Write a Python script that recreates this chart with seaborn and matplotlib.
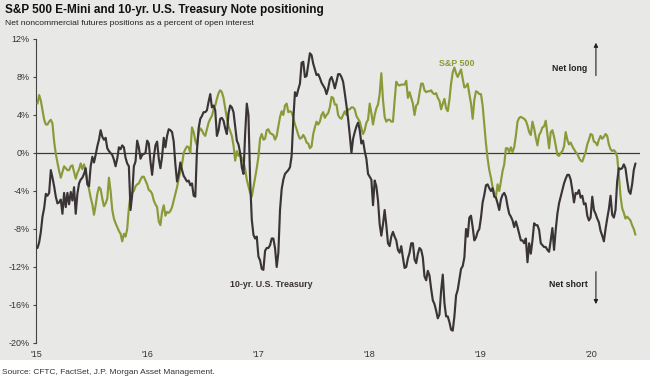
import pandas as pd
import matplotlib
matplotlib.use("Agg")
import matplotlib.pyplot as plt
import matplotlib.ticker as mticker
from matplotlib.patches import Rectangle
import seaborn as sns

# Weekly readings, net noncommercial positions as % of open interest
treasury = [
    -10.0, -9.4, -8.3, -6.7, -5.8, -4.3, -4.5, -4.2, -1.8, -2.6,
    -3.5, -4.6, -5.3, -5.2, -4.9, -6.4, -4.2, -5.7, -4.2, -5.4,
    -4.1, -5.0, -3.6, -6.4, -4.3, -3.2, -2.8, -2.6, -2.2, -1.6,
    -3.3, -3.5, -1.4, -0.4, -1.0, -0.2, 0.7, 1.4, 2.4, 1.7,
    1.4, 1.6, 0.5, 0.2, 0.0, -0.2, -0.7, -1.4, -0.6, 0.6,
    0.4, 0.8, 0.6, -0.5, -1.1, -1.4, -6.0, -4.4, -1.4, -0.9,
    1.3, 0.6, -0.6, -0.2, -0.1, 0.0, 1.3, 1.0, -0.9, -2.3,
    -0.5, 0.8, 1.2, -0.6, -1.6, -0.4, 1.6, 0.6, 1.8, 2.5,
    2.4, 2.2, 1.2, -1.2, -3.0, -2.2, -1.0, -1.8, -2.4, -2.7,
    -3.0, -2.9, -3.4, -3.2, -4.5, -4.6, 0.3, 2.6, 3.6, 3.9,
    4.3, 4.3, 4.5, 5.4, 6.2, 4.8, 5.0, 4.5, 1.8, 2.4,
    3.6, 3.7, 3.4, 2.6, 2.0, 4.2, 5.0, 4.8, 4.3, 2.8,
    1.3, 0.9, 0.0, -1.5, -2.2, 2.0, 5.2, 4.0, -2.8, -7.0,
    -8.6, -9.0, -8.8, -10.9, -11.3, -12.2, -12.3, -10.3, -10.0, -10.0,
    -9.7, -9.0, -9.0, -10.0, -12.0, -10.5, -6.0, -3.8, -2.8, -2.2,
    -2.0, -1.8, -1.5, -0.3, 3.5, 6.4, 6.0, 6.7, 7.3, 9.5,
    9.6, 8.0, 8.1, 9.3, 10.5, 10.3, 9.4, 8.8, 8.2, 8.3,
    7.9, 7.4, 7.1, 6.8, 6.2, 6.8, 7.7, 8.0, 7.5, 6.8,
    7.5, 8.3, 8.3, 8.0, 7.5, 6.3, 5.0, 3.6, 1.9, 0.0,
    1.5, 2.2, 2.8, 3.2, 2.4, 1.0, 1.3, 0.2, -0.6, -2.2,
    -2.5, -2.8, -5.5, -2.9, -3.5, -5.0, -7.5, -8.7, -7.5, -6.0,
    -7.6, -9.5, -9.8, -8.8, -8.3, -8.8, -9.2, -10.2, -10.5, -9.8,
    -11.0, -12.1, -12.0, -11.1, -10.5, -9.5, -9.5, -11.2, -11.6, -10.6,
    -10.0, -10.2, -11.0, -13.0, -13.4, -12.4, -12.9, -14.3, -15.5, -15.9,
    -16.6, -17.4, -17.0, -14.5, -12.8, -15.8, -17.2, -17.2, -17.8, -18.6,
    -18.7, -17.2, -15.0, -14.4, -13.3, -12.2, -11.9, -11.0, -8.0, -8.8,
    -6.8, -6.6, -7.8, -9.2, -8.9, -8.3, -8.0, -6.8, -5.2, -4.4,
    -3.4, -3.3, -3.7, -4.0, -3.7, -4.6, -4.7, -5.3, -6.0, -4.9,
    -4.4, -4.2, -4.6, -5.6, -6.4, -6.7, -7.1, -7.8, -7.2, -7.8,
    -8.5, -9.2, -9.2, -9.5, -9.0, -11.5, -9.5, -10.6, -9.2, -7.4,
    -7.6, -7.6, -8.1, -9.5, -9.7, -9.9, -9.9, -10.2, -10.4, -9.2,
    -7.9, -10.2, -8.1, -6.4, -5.3, -4.6, -3.9, -3.2, -2.7, -2.3,
    -2.3, -2.8, -3.9, -5.2, -4.2, -4.3, -3.9, -4.7, -4.5, -5.4,
    -5.3, -6.6, -7.1, -6.8, -4.6, -6.0, -6.4, -6.9, -7.3, -8.2,
    -8.7, -9.3, -8.0, -6.9, -5.9, -4.5, -6.5, -6.8, -6.0, -3.0,
    -1.6, -1.7, -1.6, -1.2, -1.6, -2.9, -4.0, -4.3, -3.3, -1.8,
    -1.1,
]

sp500 = [
    5.2, 6.1, 5.5, 4.5, 3.5, 3.0, 3.0, 3.3, 3.5, 3.1,
    1.2, -0.1, -1.0, -1.9, -2.6, -2.0, -1.4, -1.6, -1.8, -1.8,
    -1.4, -1.3, -2.0, -2.7, -2.1, -1.7, -1.1, -1.7, -1.2, -1.9,
    -3.1, -3.8, -4.7, -5.4, -6.5, -5.5, -4.3, -3.6, -3.8, -4.8,
    -5.6, -5.3, -4.8, -2.6, -4.0, -6.0, -6.9, -7.4, -7.8, -8.2,
    -8.5, -9.3, -8.5, -8.8, -8.0, -5.8, -4.4, -4.2, -4.0, -3.5,
    -3.3, -3.2, -2.8, -2.5, -2.5, -2.9, -3.3, -3.9, -4.0, -4.3,
    -5.0, -5.4, -5.7, -7.2, -7.6, -6.2, -5.5, -6.6, -6.2, -6.3,
    -6.1, -5.7, -5.0, -4.3, -3.6, -2.7, -1.9, -1.2, 0.0, 0.4,
    0.7, 0.6, 0.0, 2.7, 2.2, 1.3, 0.8, 2.1, 2.6, 2.4,
    2.0, 1.8, 2.5, 3.2, 3.6, 3.9, 4.6, 5.0, 5.7, 6.3,
    6.6, 6.4, 5.8, 4.7, 3.7, 2.8, 2.3, 1.8, 0.8, -0.8,
    0.2, -0.3, -0.2, -0.5, -0.9, -1.7, -2.8, -3.5, -4.2, -4.6,
    -3.6, -2.6, -1.6, -0.4, 1.5, 2.0, 1.4, 1.5, 2.4, 2.5,
    2.1, 2.0, 1.9, 1.4, 1.8, 2.8, 3.8, 4.4, 4.0, 5.0,
    5.2, 4.3, 4.4, 4.3, 3.7, 3.0, 2.5, 1.9, 1.5, 1.6,
    1.9, 1.6, 1.1, 1.0, 0.5, 0.7, 2.0, 2.7, 3.3, 3.0,
    3.3, 4.0, 4.3, 3.7, 4.0, 4.2, 4.8, 5.9, 5.8, 5.1,
    5.1, 4.0, 3.7, 3.6, 4.0, 4.4, 4.0, 4.6, 4.6, 4.8,
    4.8, 4.6, 3.9, 3.6, 3.3, 2.6, 2.0, 2.4, 3.2, 3.5,
    5.2, 4.2, 3.0, 4.0, 4.7, 5.1, 6.2, 8.4, 5.6, 3.8,
    3.3, 3.5, 3.5, 3.3, 3.3, 5.5, 7.5, 7.2, 7.1, 7.2,
    7.2, 7.2, 7.6, 5.8, 6.4, 5.8, 5.2, 4.0, 5.0, 5.2,
    6.3, 7.3, 7.3, 6.6, 6.4, 6.5, 6.5, 6.6, 6.3, 6.2,
    6.3, 5.8, 5.5, 4.6, 5.2, 5.7, 4.7, 4.4, 5.6, 7.3,
    8.5, 9.0, 8.4, 8.0, 8.4, 8.8, 7.8, 6.9, 7.0, 7.3,
    6.2, 5.2, 3.6, 5.6, 6.5, 6.4, 6.2, 6.2, 5.0, 3.0,
    1.0, -0.6, -1.8, -2.6, -3.6, -4.3, -4.6, -3.3, -4.0, -3.0,
    -1.9, -1.2, 0.5, 0.5, 0.1, 0.6, 0.1, 0.6, 1.8, 3.3,
    3.7, 3.8, 3.7, 3.6, 3.4, 2.9, 2.2, 1.9, 3.3, 2.6,
    1.6, 0.8, 1.9, 2.2, 2.7, 2.8, 3.4, 1.9, 0.5, 2.2,
    2.4, 1.7, 0.8, -0.2, -0.3, 0.0, 0.2, 0.7, 2.2, 1.4,
    0.9, 1.1, 0.7, 0.4, 0.1, -0.1, -0.5, -0.8, -0.9, -0.4,
    0.1, 0.9, 1.4, 2.0, 1.9, 1.2, 1.1, 0.8, 1.4, 1.8,
    1.5, 1.7, 2.0, 1.8, 0.9, 0.4, 0.2, 0.3, 0.1, -0.4,
    -2.3, -4.5, -5.8, -6.3, -6.9, -6.7, -6.9, -7.1, -7.6, -8.0,
    -8.6,
]

first_week = "2015-01-06"
last_week = "2020-05-26"
year_ticks = ["2015", "2016", "2017", "2018", "2019", "2020"]
year_labels = ["'15", "'16", "'17", "'18", "'19", "'20"]
y_ticks = list(range(-20, 13, 4))

# long-form table for seaborn
frames = []
for name, vals in [("S&P 500", sp500), ("10-yr. U.S. Treasury", treasury)]:
    dates = pd.date_range(first_week, last_week, periods=len(vals))
    frames.append(pd.DataFrame({"date": dates, "pct": vals, "series": name}))
df = pd.concat(frames, ignore_index=True)

sns.set_style("white")
plt.rcParams["font.family"] = ["Liberation Sans", "DejaVu Sans"]

green = "#899a38"
dark = "#3b3437"
panel = "#e8e8e6"

fig = plt.figure(figsize=(6.5, 3.8), dpi=100)
fig.patch.set_facecolor("white")
# grey panel behind everything except the source line
fig.patches.append(Rectangle((0, 20 / 380), 1, 360 / 380, transform=fig.transFigure,
                             facecolor=panel, edgecolor="none", zorder=-5))

ax = fig.add_axes([36 / 650, 37 / 380, 604 / 650, 304 / 380])
ax.patch.set_alpha(0)
ax.set_zorder(1)

ax.axhline(0, color="#3a3a3a", lw=0.9, zorder=1)
sns.lineplot(data=df, x="date", y="pct", hue="series",
             palette={"S&P 500": green, "10-yr. U.S. Treasury": dark},
             hue_order=["S&P 500", "10-yr. U.S. Treasury"],
             lw=1.55, legend=False, ax=ax, zorder=3)

ax.set_ylim(-20, 12)
ax.set_xlim(pd.Timestamp("2015-01-01"), pd.Timestamp("2020-06-10"))
ax.set_yticks(y_ticks)
ax.yaxis.set_major_formatter(mticker.FuncFormatter(lambda v, p: f"{v:.0f}%"))
ax.set_xticks(pd.to_datetime(year_ticks))
ax.set_xticklabels(year_labels)
ax.set_xlabel("")
ax.set_ylabel("")

for s in ["top", "right", "bottom"]:
    ax.spines[s].set_visible(False)
ax.spines["left"].set_color("#444444")
ax.spines["left"].set_linewidth(0.8)
ax.tick_params(axis="y", direction="out", length=2.5, width=0.8, color="#444444",
               labelsize=6.5, labelcolor="#333333", pad=2, left=True)
ax.tick_params(axis="x", length=0, labelsize=6.5, labelcolor="#333333", pad=5)

# series labels and direction notes
ax.text(pd.Timestamp("2018-10-15"), 9.45, "S&P 500", color=green, fontsize=6.4,
        fontweight="bold", ha="center", va="center")
ax.text(pd.Timestamp("2017-02-12"), -13.8, "10-yr. U.S. Treasury", color=dark,
        fontsize=6.4, fontweight="bold", ha="center", va="center")
ax.text(pd.Timestamp("2019-10-24"), 8.9, "Net long", color="#222222", fontsize=6.3,
        fontweight="bold", ha="center", va="center")
ax.text(pd.Timestamp("2019-10-20"), -13.8, "Net short", color="#222222", fontsize=6.3,
        fontweight="bold", ha="center", va="center")
arrow_x = pd.Timestamp("2020-01-17")
ax.annotate("", xy=(arrow_x, 11.9), xytext=(arrow_x, 7.85),
            arrowprops=dict(arrowstyle="-|>", color="#222222", lw=0.8, mutation_scale=6))
ax.annotate("", xy=(arrow_x, -16.2), xytext=(arrow_x, -12.2),
            arrowprops=dict(arrowstyle="-|>", color="#222222", lw=0.8, mutation_scale=6))

fig.text(5 / 650, 1 - 10.5 / 380, "S&P 500 E-Mini and 10-yr. U.S. Treasury Note positioning",
         fontsize=8.5, fontweight="bold", color="#111111", va="center", ha="left")
fig.text(5 / 650, 1 - 23.5 / 380, "Net noncommercial futures positions as a percent of open interest",
         fontsize=6.1, color="#222222", va="center", ha="left")
fig.text(2 / 650, 1 - 372.5 / 380, "Source: CFTC, FactSet, J.P. Morgan Asset Management.",
         fontsize=6, color="#333333", va="center", ha="left")

fig.savefig("out.png", dpi=100, facecolor=fig.get_facecolor())
